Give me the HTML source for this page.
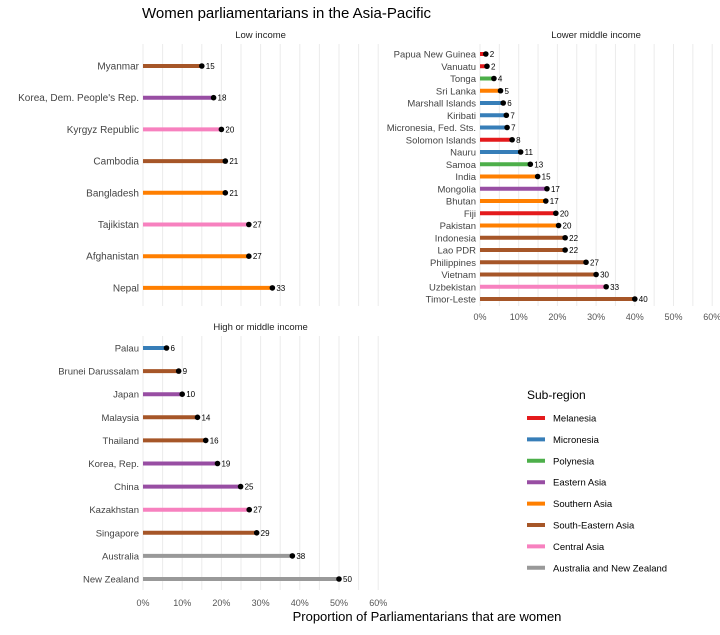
<!DOCTYPE html>
<html><head><meta charset="utf-8"><style>
body{margin:0;background:#fff;font-family:"Liberation Sans",sans-serif;}
svg text{font-family:"Liberation Sans",sans-serif;}
</style></head><body>
<svg id="c" width="720" height="630">
<text x="142" y="18" font-size="15" fill="#000">Women parliamentarians in the Asia-Pacific</text>
<text x="427" y="621" font-size="13" text-anchor="middle" fill="#000">Proportion of Parliamentarians that are women</text>
</svg>
<script>
const colors={Mel:'#E41A1C',Mic:'#377EB8',Pol:'#4DAF4A',EA:'#984EA3',SA:'#FF7F00',SEA:'#A65628',CA:'#F781BF',ANZ:'#999999'};
const legendLabels=['Melanesia','Micronesia','Polynesia','Eastern Asia','Southern Asia','South-Eastern Asia','Central Asia','Australia and New Zealand'];
const legendKeys=['Mel','Mic','Pol','EA','SA','SEA','CA','ANZ'];
const tickLabels=['0%','10%','20%','30%','40%','50%','60%'];
const lowNames=['Myanmar','Korea, Dem. People\'s Rep.','Kyrgyz Republic','Cambodia','Bangladesh','Tajikistan','Afghanistan','Nepal'];
const lowVals=[15,18,20,21,21,27,27,33];
const lowReg=['SEA','EA','CA','SEA','SA','CA','SA','SA'];
const lmNames=['Papua New Guinea','Vanuatu','Tonga','Sri Lanka','Marshall Islands','Kiribati','Micronesia, Fed. Sts.','Solomon Islands','Nauru','Samoa','India','Mongolia','Bhutan','Fiji','Pakistan','Indonesia','Lao PDR','Philippines','Vietnam','Uzbekistan','Timor-Leste'];
const lmVals=[1.5,1.8,3.6,5.3,6,6.8,7,8.3,10.5,13,14.9,17.3,17,19.6,20.3,22,22,27.4,30,32.6,40];
const lmReg=['Mel','Mel','Pol','SA','Mic','Mic','Mic','Mel','Mic','Pol','SA','EA','SA','Mel','SA','SEA','SEA','SEA','SEA','CA','SEA'];
const hiNames=['Palau','Brunei Darussalam','Japan','Malaysia','Thailand','Korea, Rep.','China','Kazakhstan','Singapore','Australia','New Zealand'];
const hiVals=[6,9.1,10,13.9,16,19,24.9,27.1,29,38.1,50];
const hiReg=['Mic','SEA','EA','SEA','SEA','EA','EA','CA','SEA','ANZ','ANZ'];
const svg=document.getElementById('c');const NS='http://www.w3.org/2000/svg';
function mk(t,a,txt){const e=document.createElementNS(NS,t);for(const k in a)e.setAttribute(k,a[k]);if(txt!==undefined)e.textContent=txt;svg.appendChild(e);return e;}
function panel(key,title,names,vals,reg,x0,pxPer10,yTop,yBot,y1,step,axisY,fs,lfs){
  const sx=v=>x0+v/10*pxPer10;
  const t=mk('text',{x:sx(30),y:yTop-6,'font-size':9.5,'text-anchor':'middle',fill:'#222'},title);
  
  for(let g=0;g<=60;g+=5){const l=mk('line',{x1:sx(g),x2:sx(g),y1:yTop,y2:yBot,stroke:'#ebebeb','stroke-width':1});
    }
  if(axisY){tickLabels.forEach((s,i)=>{const e=mk('text',{x:sx(i*10),y:axisY,'font-size':9,'text-anchor':'middle',fill:'#555'},s);
    });}
  names.forEach((n,i)=>{const y=y1+i*step;
    const lb=mk('text',{x:x0-4,y:y+3.5,'font-size':fs,'text-anchor':'end',fill:'#444'},n);
    
    const b=mk('line',{x1:x0,x2:sx(vals[i]),y1:y,y2:y,stroke:colors[reg[i]],'stroke-width':4});
    
    const d=mk('circle',{cx:sx(vals[i]),cy:y,r:2.8,fill:'#000'});
    
    const v=mk('text',{x:sx(vals[i])+4,y:y+3,'font-size':lfs,fill:'#000'},Math.round(vals[i]));
    
  });
}
panel('low','Low income',lowNames,lowVals,lowReg,143,39.2,44,306,66,31.7,0,10,8);
panel('lower-middle','Lower middle income',lmNames,lmVals,lmReg,480,38.7,44,306,54,12.25,320,9.5,8);
panel('high','High or middle income',hiNames,hiVals,hiReg,143,39.2,336,590,348,23.1,606,9.5,8);
const lt=mk('text',{x:527,y:399,'font-size':12,fill:'#000'},'Sub-region');

legendKeys.forEach((k,i)=>{const y=418+i*21.4;
  const l=mk('line',{x1:527,x2:545,y1:y,y2:y,stroke:colors[k],'stroke-width':4});
  
  const t=mk('text',{x:553,y:y+3.5,'font-size':9.5,fill:'#000'},legendLabels[i]);
  
});
</script>
</body></html>
